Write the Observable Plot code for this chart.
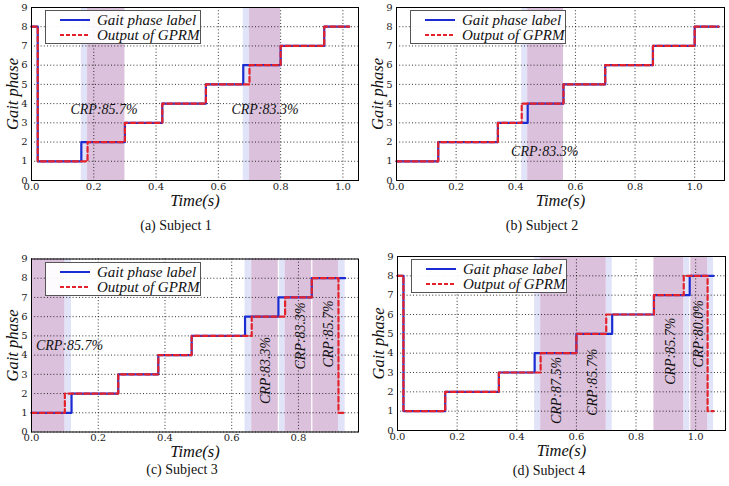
<!DOCTYPE html>
<html><head><meta charset="utf-8">
<script src="https://cdn.jsdelivr.net/npm/d3@7"></script>
<script src="https://cdn.jsdelivr.net/npm/@observablehq/plot@0.6"></script>
<style>
body{margin:0;background:#fff;}
#root{position:relative;width:729px;height:486px;overflow:hidden;font-family:"Liberation Serif","DejaVu Serif",serif;background:#fff;}
.panel{position:absolute;}
#root svg g[aria-label="text"]{font-family:"Liberation Serif","DejaVu Serif",serif !important;}
#root svg g[aria-label$="tick label"]{font-family:"DejaVu Serif",serif !important;}
.legend{position:absolute;border:1px solid #555;background:rgba(255,255,255,0.93);box-sizing:border-box;width:156px;height:34px;font-style:italic;font-size:15px;color:#111;font-family:"Liberation Serif","DejaVu Serif",serif;}
.legend .row{position:absolute;left:0;height:16px;line-height:16px;white-space:nowrap;}
.legend svg{position:absolute;left:14px;top:6px;}
.legend span{position:absolute;left:51px;top:0;}
.caption{position:absolute;font-size:14px;transform:translateX(-50%);white-space:nowrap;color:#111;font-family:"Liberation Serif","DejaVu Serif",serif;}
</style></head>
<body><div id="root"></div>
<script>
// ---------- data ----------
const xTicks = [0, 0.2, 0.4, 0.6, 0.8, 1.0];
const yTicks = [0, 1, 2, 3, 4, 5, 6, 7, 8, 9];
const legendLabels = ["Gait phase label", "Output of GPRM"];
const captions = ["(a) Subject 1", "(b) Subject 2", "(c) Subject 3", "(d) Subject 4"];
const xLabel = "Time(s)";
const yLabel = "Gait phase";

// Subject 1
const s1LabelT = [0, 0.02, 0.16, 0.30, 0.42, 0.56, 0.68, 0.80, 0.94, 1.02];
const s1LabelP = [8, 1, 2, 3, 4, 5, 6, 7, 8, 8];
const s1OutT   = [0, 0.02, 0.18, 0.30, 0.42, 0.56, 0.70, 0.80, 0.94, 1.02];
const s1OutP   = [8, 1, 2, 3, 4, 5, 6, 7, 8, 8];
const s1Blue = [[0.16, 0.18], [0.68, 0.70]];
const s1Pink = [[0.18, 0.30], [0.70, 0.80]];
const s1Sep = [];
const s1Crp  = ["CRP:85.7%", "CRP:83.3%"];
const s1CrpT = [0.233, 0.75];
const s1CrpP = [3.7, 3.7];
const s1CrpR = [0, 0];

// Subject 2
const s2LabelT = [0, 0.14, 0.34, 0.44, 0.56, 0.70, 0.86, 1.00, 1.08];
const s2LabelP = [1, 2, 3, 4, 5, 6, 7, 8, 8];
const s2OutT   = [0, 0.14, 0.34, 0.42, 0.56, 0.70, 0.86, 1.00, 1.08];
const s2OutP   = [1, 2, 3, 4, 5, 6, 7, 8, 8];
const s2Blue = [[0.42, 0.44]];
const s2Pink = [[0.44, 0.56]];
const s2Sep = [];
const s2Crp  = ["CRP:83.3%"];
const s2CrpT = [0.497];
const s2CrpP = [1.5];
const s2CrpR = [0];

// Subject 3
const s3LabelT = [0, 0.12, 0.26, 0.38, 0.48, 0.64, 0.74, 0.84, 0.94];
const s3LabelP = [1, 2, 3, 4, 5, 6, 7, 8, 8];
const s3OutT   = [0, 0.10, 0.26, 0.38, 0.48, 0.66, 0.76, 0.84, 0.92, 0.94];
const s3OutP   = [1, 2, 3, 4, 5, 6, 7, 8, 1, 1];
const s3Blue = [[0.10, 0.12], [0.64, 0.66], [0.74, 0.76], [0.92, 0.94]];
const s3Pink = [[0, 0.10], [0.66, 0.74], [0.76, 0.84], [0.84, 0.92]];
const s3Sep = [0.74, 0.84];
const s3Crp  = ["CRP:85.7%", "CRP:83.3%", "CRP:83.3%", "CRP:85.7%"];
const s3CrpT = [0.114, 0.70, 0.805, 0.891];
const s3CrpP = [4.5, 3.2, 5.0, 5.1];
const s3CrpR = [0, -90, -90, -90];

// Subject 4
const s4LabelT = [0, 0.02, 0.16, 0.34, 0.46, 0.60, 0.72, 0.86, 0.98, 1.06];
const s4LabelP = [8, 1, 2, 3, 4, 5, 6, 7, 8, 8];
const s4OutT   = [0, 0.02, 0.16, 0.34, 0.48, 0.60, 0.70, 0.86, 0.96, 1.04, 1.06];
const s4OutP   = [8, 1, 2, 3, 4, 5, 6, 7, 8, 1, 1];
const s4Blue = [[0.46, 0.48], [0.70, 0.72], [0.96, 0.98], [1.04, 1.06]];
const s4Pink = [[0.48, 0.70], [0.86, 0.96], [0.98, 1.04]];
const s4Sep = [0.98];
const s4Crp  = ["CRP:87.5%", "CRP:85.7%", "CRP:85.7%", "CRP:80.0%"];
const s4CrpT = [0.534, 0.653, 0.914, 1.011];
const s4CrpP = [2.07, 2.5, 4.1, 5.0];
const s4CrpR = [-90, -90, -90, -90];

// ---------- styles / layout ----------
const BLUE = "#1b2dd2", RED = "#e3222b", PINK = "#dcc1dc", LBLUE = "#e1e3f8";
const serif = "Liberation Serif";
const tickFont = "DejaVu Serif";

const panels = [
  {lt: s1LabelT, lp: s1LabelP, ot: s1OutT, op: s1OutP, blue: s1Blue, pink: s1Pink, sep: s1Sep, crp: s1Crp, ct: s1CrpT, cp: s1CrpP, cr: s1CrpR,
   xmax: 1.05, left: 0, top: 0, w: 365, h: 210, ml: 31, mr: 7, mt: 7, mb: 30, cap: captions[0], capX: 176, capY: 218},
  {lt: s2LabelT, lp: s2LabelP, ot: s2OutT, op: s2OutP, blue: s2Blue, pink: s2Pink, sep: s2Sep, crp: s2Crp, ct: s2CrpT, cp: s2CrpP, cr: s2CrpR,
   xmax: 1.1, left: 365, top: 0, w: 364, h: 210, ml: 31, mr: 5, mt: 7, mb: 30, cap: captions[1], capX: 542, capY: 218},
  {lt: s3LabelT, lp: s3LabelP, ot: s3OutT, op: s3OutP, blue: s3Blue, pink: s3Pink, sep: s3Sep, crp: s3Crp, ct: s3CrpT, cp: s3CrpP, cr: s3CrpR,
   xmax: 0.98, left: 0, top: 250, w: 365, h: 210, ml: 31, mr: 7, mt: 8.5, mb: 28.5, cap: captions[2], capX: 182, capY: 462},
  {lt: s4LabelT, lp: s4LabelP, ot: s4OutT, op: s4OutP, blue: s4Blue, pink: s4Pink, sep: s4Sep, crp: s4Crp, ct: s4CrpT, cp: s4CrpP, cr: s4CrpR,
   xmax: 1.1, left: 365, top: 250, w: 364, h: 210, ml: 32, mr: 4, mt: 6, mb: 30, cap: captions[3], capX: 549, capY: 463}
];

const root = document.getElementById("root");

function zipPts(T, P) { return T.map((t, i) => ({t, p: P[i]})); }

for (const c of panels) {
  const labelPts = zipPts(c.lt, c.lp);
  const outPts = zipPts(c.ot, c.op);
  const crpData = c.crp.map((s, i) => ({s, t: c.ct[i], p: c.cp[i], r: c.cr[i]}));
  const xt = xTicks.filter(t => t <= c.xmax);
  const svg = Plot.plot({
    width: c.w, height: c.h,
    marginLeft: c.ml, marginRight: c.mr, marginTop: c.mt, marginBottom: c.mb,
    style: {background: "transparent", overflow: "visible", fontFamily: "'DejaVu Serif', serif"},
    x: {domain: [0, c.xmax]},
    y: {domain: [0, 9]},
    marks: [
      Plot.rect(c.blue, {x1: d => d[0], x2: d => d[1], fill: LBLUE}),
      Plot.rect(c.pink, {x1: d => d[0], x2: d => d[1], fill: PINK}),
      Plot.ruleX(c.sep, {stroke: "white", strokeWidth: 1.2}),
      Plot.gridX(xt, {stroke: "#000", strokeOpacity: 1, strokeWidth: 0.8, strokeDasharray: "1,2.2"}),
      Plot.gridY(yTicks, {stroke: "#000", strokeOpacity: 1, strokeWidth: 0.8, strokeDasharray: "1,2.2"}),
      Plot.axisX(xt, {tickSize: 0, tickPadding: 2, tickFormat: d3.format(".1f"), fontFamily: tickFont, fontSize: 10, fill: "#222", label: null}),
      Plot.axisY(yTicks, {tickSize: 0, tickPadding: 4, fontFamily: tickFont, fontSize: 10, fill: "#222", label: null}),
      Plot.line(labelPts, {x: "t", y: "p", curve: "step-after", stroke: BLUE, strokeWidth: 2.2}),
      Plot.line(outPts, {x: "t", y: "p", curve: "step-after", stroke: RED, strokeWidth: 2.2, strokeDasharray: "5,3"}),
      Plot.text(crpData, {x: "t", y: "p", text: "s", rotate: "r", fontSize: 14, fontStyle: "italic", fontFamily: serif, fill: "#111"}),
      Plot.text([xLabel], {text: d => d, frameAnchor: "bottom", lineAnchor: "middle", textAnchor: "middle", dy: 20, fontSize: 16.5, fontStyle: "italic", fontFamily: serif, fill: "#111"}),
      Plot.text([yLabel], {text: d => d, frameAnchor: "left", lineAnchor: "middle", textAnchor: "middle", dx: -19, rotate: -90, fontSize: 16.5, fontStyle: "italic", fontFamily: serif, fill: "#111"}),
      Plot.frame({stroke: "#000", strokeWidth: 1})
    ]
  });
  const wrap = document.createElement("div");
  wrap.className = "panel";
  wrap.style.left = c.left + "px";
  wrap.style.top = c.top + "px";
  wrap.appendChild(svg);
  root.appendChild(wrap);

  // legend
  const lg = document.createElement("div");
  lg.className = "legend";
  lg.style.left = (c.left + c.ml + 14) + "px";
  lg.style.top = (c.top + c.mt + 3) + "px";
  const styles = [
    `<line x1="0" y1="2" x2="30" y2="2" stroke="${BLUE}" stroke-width="2"/>`,
    `<line x1="0" y1="2" x2="30" y2="2" stroke="${RED}" stroke-width="2" stroke-dasharray="4,2"/>`
  ];
  legendLabels.forEach((lab, i) => {
    const row = document.createElement("div");
    row.className = "row";
    row.style.top = (1 + i * 15) + "px";
    row.innerHTML = `<svg width="30" height="4">${styles[i]}</svg><span></span>`;
    row.querySelector("span").textContent = lab;
    lg.appendChild(row);
  });
  root.appendChild(lg);

  const cap = document.createElement("div");
  cap.className = "caption";
  cap.style.left = c.capX + "px";
  cap.style.top = c.capY + "px";
  cap.textContent = c.cap;
  root.appendChild(cap);
}
</script>
</body></html>
